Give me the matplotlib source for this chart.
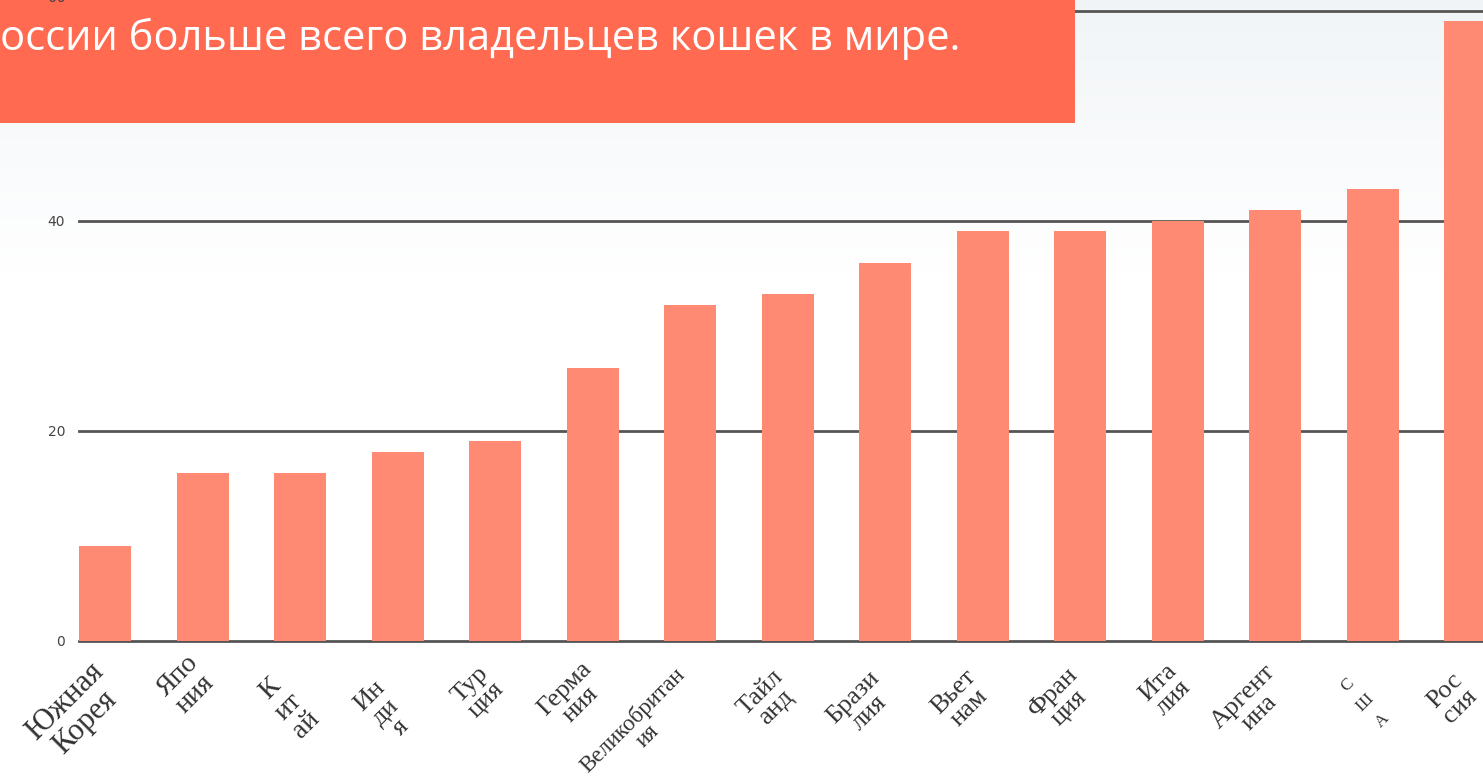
import numpy as np
import matplotlib
matplotlib.use("Agg")
import matplotlib.pyplot as plt
from matplotlib.patches import Rectangle

# ---- data ----
countries = ["Южная\nКорея", "Япо\nния", "К\nит\nай", "Ин\nди\nя", "Тур\nция",
             "Герма\nния", "Великобритан\nия", "Тайл\nанд", "Брази\nлия", "Вьет\nнам",
             "Фран\nция", "Ита\nлия", "Аргент\nина", "С\nШ\nА", "Рос\nсия"]
values = [9, 16, 16, 18, 19, 26, 32, 33, 36, 39, 39, 40, 41, 43, 59]
yticks = [0, 20, 40, 60]
title_text = "оссии больше всего владельцев кошек в мире."

# ---- styling ----
W, H, DPI = 1483, 777, 100
fig = plt.figure(figsize=(W / DPI, H / DPI), dpi=DPI)

# very subtle background gradient
bg = fig.add_axes([0, 0, 1, 1], zorder=-10)
grad = np.linspace(0, 1, 256).reshape(-1, 1)
top = np.array([0.945, 0.96, 0.97])
bot = np.array([1.0, 1.0, 1.0])
fade = np.clip(grad / 0.35, 0, 1)
img = top[None, None, :] * (1 - fade[..., None]) + bot[None, None, :] * fade[..., None]
bg.imshow(img, aspect="auto", extent=[0, 1, 0, 1], origin="upper")
bg.set_axis_off()

left_px, right_px = 79, 1483
y0_px, y60_px = 641, 10.5
ax = fig.add_axes([left_px / W, 1 - y0_px / H, (right_px - left_px) / W, (y0_px - y60_px) / H])
ax.set_facecolor("none")

x = np.arange(len(values))
bw = 0.535
ax.bar(x, values, width=bw, color="#FF8A74", zorder=3)
ax.set_xlim(-bw / 2, 14.13)
ax.set_ylim(0, 60)

ax.set_yticks(yticks)
ax.set_yticklabels([str(t) for t in yticks[:-1]] + [""], fontsize=10, color="#444444",
                   family="DejaVu Sans")
ax.tick_params(axis="y", length=0, pad=10)
ax.tick_params(axis="x", length=0, labelbottom=False)
for t in yticks:
    ax.axhline(t, color="#555555", lw=2.0, zorder=2, clip_on=False)
for s in ax.spines.values():
    s.set_visible(False)

# category labels (rotated, multi-line)
offsets = [(-30, -71), (-16, -44), (-12, -66), (-12, -71), (-17, -51),
           (-20, -56), (-50, -87), (-19, -59), (-24, -64), (-21, -59),
           (-19, -59), (-12, -49), (-24, -64), (-8, -62), (-18, -58)]
sizes = [22, 20, 20, 19, 19, 19, 16.5, 19, 19, 19, 19, 19, 19, 12.5, 19]
spacings = [1.0] * 13 + [1.75, 1.0]
for i, lab in enumerate(countries):
    ax.annotate(lab, xy=(x[i], 0), xycoords=("data", "axes fraction"),
                xytext=offsets[i], textcoords="offset pixels",
                ha="center", va="center", rotation=45, multialignment="center",
                linespacing=spacings[i], fontsize=sizes[i], family="Liberation Serif",
                color="#333333", annotation_clip=False)

# title banner
banner = Rectangle((0, 1 - 123 / H), 1075 / W, 123 / H, transform=fig.transFigure,
                   facecolor="#FF6A50", edgecolor="none", zorder=10)
fig.add_artist(banner)
fig.text(0, 1 - 50 / H, title_text, color="white", fontsize=30, family="Open Sans",
         ha="left", va="baseline", zorder=11)
# top tick label (partly cut off at the top edge, drawn over the banner)
fig.text(57 / W, 1 + 2 / H, str(yticks[-1]), fontsize=10, color="#444444",
         family="DejaVu Sans", ha="center", va="center", zorder=12)

fig.savefig("out.png", dpi=DPI)
